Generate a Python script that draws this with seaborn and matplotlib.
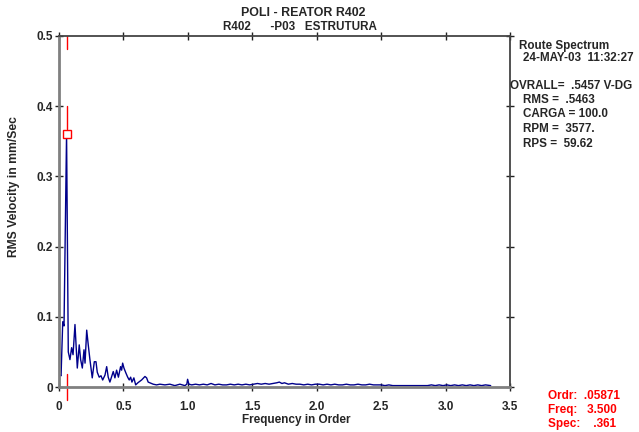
import matplotlib
matplotlib.use("Agg")
import matplotlib.pyplot as plt
import seaborn as sns
import pandas as pd

# ---- data ----
order = [0.000, 0.008, 0.016, 0.029, 0.039, 0.0587, 0.072, 0.085, 0.098, 0.109,
         0.124, 0.137, 0.142, 0.157, 0.168, 0.181, 0.194, 0.202, 0.215, 0.227,
         0.240, 0.258, 0.274, 0.287, 0.297, 0.312, 0.326, 0.339, 0.357, 0.370,
         0.382, 0.395, 0.411, 0.421, 0.434, 0.447, 0.461, 0.478, 0.486, 0.494,
         0.504, 0.519, 0.533, 0.545, 0.556, 0.566, 0.581, 0.595, 0.612, 0.641,
         0.667, 0.680, 0.692, 0.705, 0.731, 0.757, 0.783, 0.822, 0.860, 0.899,
         0.938, 0.977, 0.992, 0.998, 1.008, 1.030, 1.060, 1.090, 1.120, 1.150,
         1.180, 1.210, 1.240, 1.270, 1.300, 1.330, 1.360, 1.390, 1.420, 1.450,
         1.480, 1.510, 1.540, 1.570, 1.600, 1.630, 1.660, 1.690, 1.710, 1.730,
         1.750, 1.780, 1.810, 1.840, 1.870, 1.900, 1.930, 1.960, 1.990, 2.020,
         2.050, 2.080, 2.110, 2.140, 2.170, 2.200, 2.230, 2.260, 2.290, 2.320,
         2.350, 2.380, 2.410, 2.440, 2.470, 2.500, 2.530, 2.560, 2.590, 2.620,
         2.650, 2.680, 2.710, 2.740, 2.770, 2.800, 2.830, 2.860, 2.890, 2.920,
         2.950, 2.980, 3.010, 3.040, 3.070, 3.100, 3.130, 3.160, 3.190, 3.220,
         3.250, 3.280, 3.310, 3.350]
rms_velocity = [0.017, 0.017, 0.016, 0.093, 0.087, 0.361, 0.050, 0.039, 0.056, 0.046,
                0.089, 0.043, 0.027, 0.060, 0.039, 0.027, 0.053, 0.034, 0.081, 0.060,
                0.039, 0.013, 0.036, 0.036, 0.021, 0.014, 0.016, 0.010, 0.017, 0.029,
                0.014, 0.007, 0.016, 0.022, 0.013, 0.024, 0.014, 0.029, 0.024, 0.034,
                0.027, 0.020, 0.014, 0.010, 0.014, 0.007, 0.013, 0.003, 0.006, 0.010,
                0.015, 0.013, 0.007, 0.006, 0.004, 0.003, 0.004, 0.003, 0.004, 0.002,
                0.004, 0.002, 0.004, 0.011, 0.004, 0.003, 0.004, 0.003, 0.004, 0.003,
                0.005, 0.003, 0.004, 0.003, 0.003, 0.004, 0.003, 0.004, 0.003, 0.004,
                0.003, 0.004, 0.005, 0.004, 0.005, 0.004, 0.005, 0.006, 0.007, 0.005,
                0.006, 0.004, 0.005, 0.004, 0.004, 0.003, 0.004, 0.003, 0.004, 0.004,
                0.003, 0.004, 0.003, 0.004, 0.003, 0.003, 0.004, 0.003, 0.003, 0.004,
                0.003, 0.003, 0.004, 0.003, 0.003, 0.003, 0.002, 0.003, 0.002, 0.002,
                0.002, 0.002, 0.002, 0.002, 0.002, 0.002, 0.002, 0.002, 0.003, 0.002,
                0.003, 0.002, 0.003, 0.002, 0.003, 0.002, 0.003, 0.002, 0.003, 0.002,
                0.003, 0.002, 0.003, 0.002]
cursor_order = 0.05871
cursor_spec = 0.361
x_ticks = [0, 0.5, 1.0, 1.5, 2.0, 2.5, 3.0, 3.5]
x_tick_labels = ["0", "0.5", "1.0", "1.5", "2.0", "2.5", "3.0", "3.5"]
y_ticks = [0, 0.1, 0.2, 0.3, 0.4, 0.5]
y_tick_labels = ["0", "0.1", "0.2", "0.3", "0.4", "0.5"]
title_line1 = "POLI - REATOR R402"
title_line2 = "R402      -P03   ESTRUTURA"
info_lines = ["Route Spectrum", "24-MAY-03  11:32:27",
              "OVRALL=  .5457 V-DG", "RMS =  .5463", "CARGA = 100.0",
              "RPM =  3577.", "RPS =  59.62"]
cursor_lines = ["Ordr:  .05871", "Freq:   3.500", "Spec:    .361"]

df = pd.DataFrame({"order": order, "rms": rms_velocity})

sns.set_theme(style="white")
plt.rcParams["font.family"] = ["Liberation Sans", "DejaVu Sans"]
plt.rcParams["font.weight"] = "bold"

fig = plt.figure(figsize=(6.39, 4.32), dpi=100)
ax = fig.add_axes([59 / 639, 1 - 387 / 432, 451 / 639, 351 / 432])

sns.lineplot(data=df, x="order", y="rms", ax=ax, color="#00008b", linewidth=1.0)

ax.set_xlim(0, 3.5)
ax.set_ylim(0, 0.5)
ax.set_xticks(x_ticks)
ax.set_xticklabels(x_tick_labels, fontsize=8.5, fontweight="bold")
ax.set_yticks(y_ticks)
ax.set_yticklabels(y_tick_labels, fontsize=8.5, fontweight="bold")
ax.tick_params(axis="both", which="both", direction="inout", length=6, width=1,
               color="#222222", top=True, right=True, bottom=True, left=True,
               labeltop=False, labelright=False)
ax.tick_params(axis="x", pad=7)
ax.tick_params(axis="y", pad=1.5)
ax.set_xlabel("Frequency in Order", fontsize=8.5, fontweight="bold")
ax.set_ylabel("RMS Velocity in mm/Sec", fontsize=8.75, fontweight="bold")
ax.xaxis.set_label_coords((296.5 - 59) / 451, -(420 - 387) / 351)
ax.yaxis.set_label_coords((14 - 59) / 451, (387 - 187) / 351)
ax.xaxis.label.set_va("center")
ax.yaxis.label.set_va("center")

for side in ["left", "bottom"]:
    ax.spines[side].set_color("#808080")
    ax.spines[side].set_linewidth(2)
for side in ["top", "right"]:
    ax.spines[side].set_color("#444444")
    ax.spines[side].set_linewidth(1.3)

# cursor marks
ax.plot([cursor_order, cursor_order], [0.5, 0.481], color="red", lw=1)
ax.plot([cursor_order, cursor_order], [0.4, 0.368], color="red", lw=1)
ax.plot([cursor_order, cursor_order], [0.019, -0.019], color="red", lw=1, clip_on=False)
ax.plot([cursor_order], [cursor_spec], marker="s", markersize=5.5,
        markerfacecolor="white", markeredgecolor="red", markeredgewidth=1, zorder=5)

# titles
fig.text(303.5 / 639, 1 - 12.5 / 432, title_line1, ha="center", va="center",
         fontsize=8.9, fontweight="bold")
fig.text(300 / 639, 1 - 27 / 432, title_line2, ha="center", va="center",
         fontsize=8.4, fontweight="bold")

# info block
info_y = [46, 58, 86, 100, 114, 129, 144]
info_x = [519, 523, 510, 523, 523, 523, 523]
for txt, yy, xx in zip(info_lines, info_y, info_x):
    fig.text(xx / 639, 1 - yy / 432, txt, ha="left", va="center",
             fontsize=8.4, fontweight="bold")

for txt, yy in zip(cursor_lines, [396, 410, 424]):
    fig.text(548 / 639, 1 - yy / 432, txt, ha="left", va="center",
             fontsize=8.5, fontweight="bold", color="red")

fig.savefig("out.png", dpi=100)
